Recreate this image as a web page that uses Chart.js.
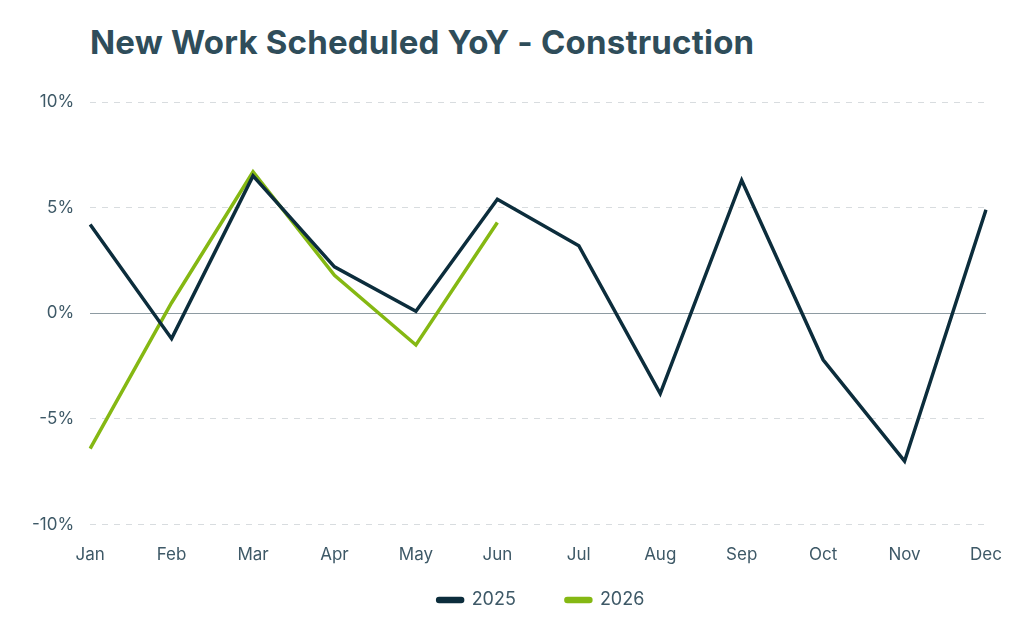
<!DOCTYPE html>
<html>
<head>
<meta charset="utf-8">
<script src="https://cdn.jsdelivr.net/npm/chart.js@4"></script>
<style>
  html, body { margin: 0; padding: 0; background: #fff; }
  #wrap { position: relative; width: 1024px; height: 640px; }
  #title {
    position: absolute; left: 90px; top: 22px; margin: 0;
    font-family: Inter, "Open Sans", sans-serif; font-weight: 700; font-size: 33px;
    line-height: 40px; color: #2f4d5a; letter-spacing: 0.2px;
  }
  canvas { position: absolute; left: 0; top: 0; }
</style>
</head>
<body>
<div id="wrap">
  <h1 id="title">New Work Scheduled YoY - Construction</h1>
  <canvas id="chart" width="1024" height="640"></canvas>
</div>
<script>
// months on the x axis
const months = ['Jan', 'Feb', 'Mar', 'Apr', 'May', 'Jun', 'Jul', 'Aug', 'Sep', 'Oct', 'Nov', 'Dec'];

// year-over-year change, percent
const values2025 = [4.2, -1.2, 6.5, 2.2, 0.1, 5.4, 3.2, -3.8, 6.3, -2.2, -7.0, 4.9];
const values2026 = [-6.4, 0.5, 6.7, 1.8, -1.5, 4.3];

const yTicks = [-10, -5, 0, 5, 10];

const navy = '#0c2d3c';
const green = '#85b813';
const labelColor = '#3e5967';
const font = "Inter, 'Open Sans', sans-serif";

// the legend keeps a wide gap between items, but sits close under the axis
// and a bit right of centre like the original
const LEGEND_LIFT = 36;
const LEGEND_SHIFT = 40;
const legendLift = {
    id: 'legendLift',
    afterLayout(chart) {
        chart.legend.top -= LEGEND_LIFT;
        chart.legend.left += LEGEND_SHIFT;
        chart.legend.right += LEGEND_SHIFT;
    }
};

const ctx = document.getElementById('chart').getContext('2d');
new Chart(ctx, {
    type: 'line',
    data: {
        labels: months,
        datasets: [
            {
                label: '2025',
                data: values2025,
                borderColor: navy,
                backgroundColor: navy,
                borderWidth: 3.5,
                pointRadius: 0,
                tension: 0
            },
            {
                label: '2026',
                data: values2026,
                borderColor: green,
                backgroundColor: green,
                borderWidth: 3.5,
                pointRadius: 0,
                tension: 0
            }
        ]
    },
    plugins: [legendLift],
    options: {
        responsive: false,
        animation: false,
        layout: {
            padding: { top: 102, left: 16, right: 38, bottom: 22 }
        },
        plugins: {
            title: { display: false },
            tooltip: { enabled: false },
            legend: {
                position: 'bottom',
                maxHeight: 41,
                labels: {
                    color: labelColor,
                    font: { family: font, size: 18 },
                    boxWidth: 25,
                    boxHeight: 3,
                    useBorderRadius: true,
                    borderRadius: 1.5,
                    padding: 50
                }
            }
        },
        scales: {
            x: {
                offset: false,
                grid: { display: false },
                border: { display: false },
                ticks: {
                    color: labelColor,
                    font: { family: font, size: 17 },
                    padding: 12,
                    maxRotation: 0
                }
            },
            y: {
                min: -10,
                max: 10,
                afterBuildTicks: axis => {
                    axis.ticks = yTicks.map(v => ({ value: v }));
                },
                grid: {
                    drawTicks: false,
                    lineWidth: 1,
                    color: c => c.tick && c.tick.value === 0 ? '#8e9ba2' : '#d8dcdf'
                },
                border: {
                    display: false,
                    dash: c => c.tick && c.tick.value === 0 ? [] : [6, 6]
                },
                ticks: {
                    color: labelColor,
                    font: { family: font, size: 17 },
                    padding: 16,
                    callback: v => v + '%'
                }
            }
        }
    }
});
</script>
</body>
</html>
